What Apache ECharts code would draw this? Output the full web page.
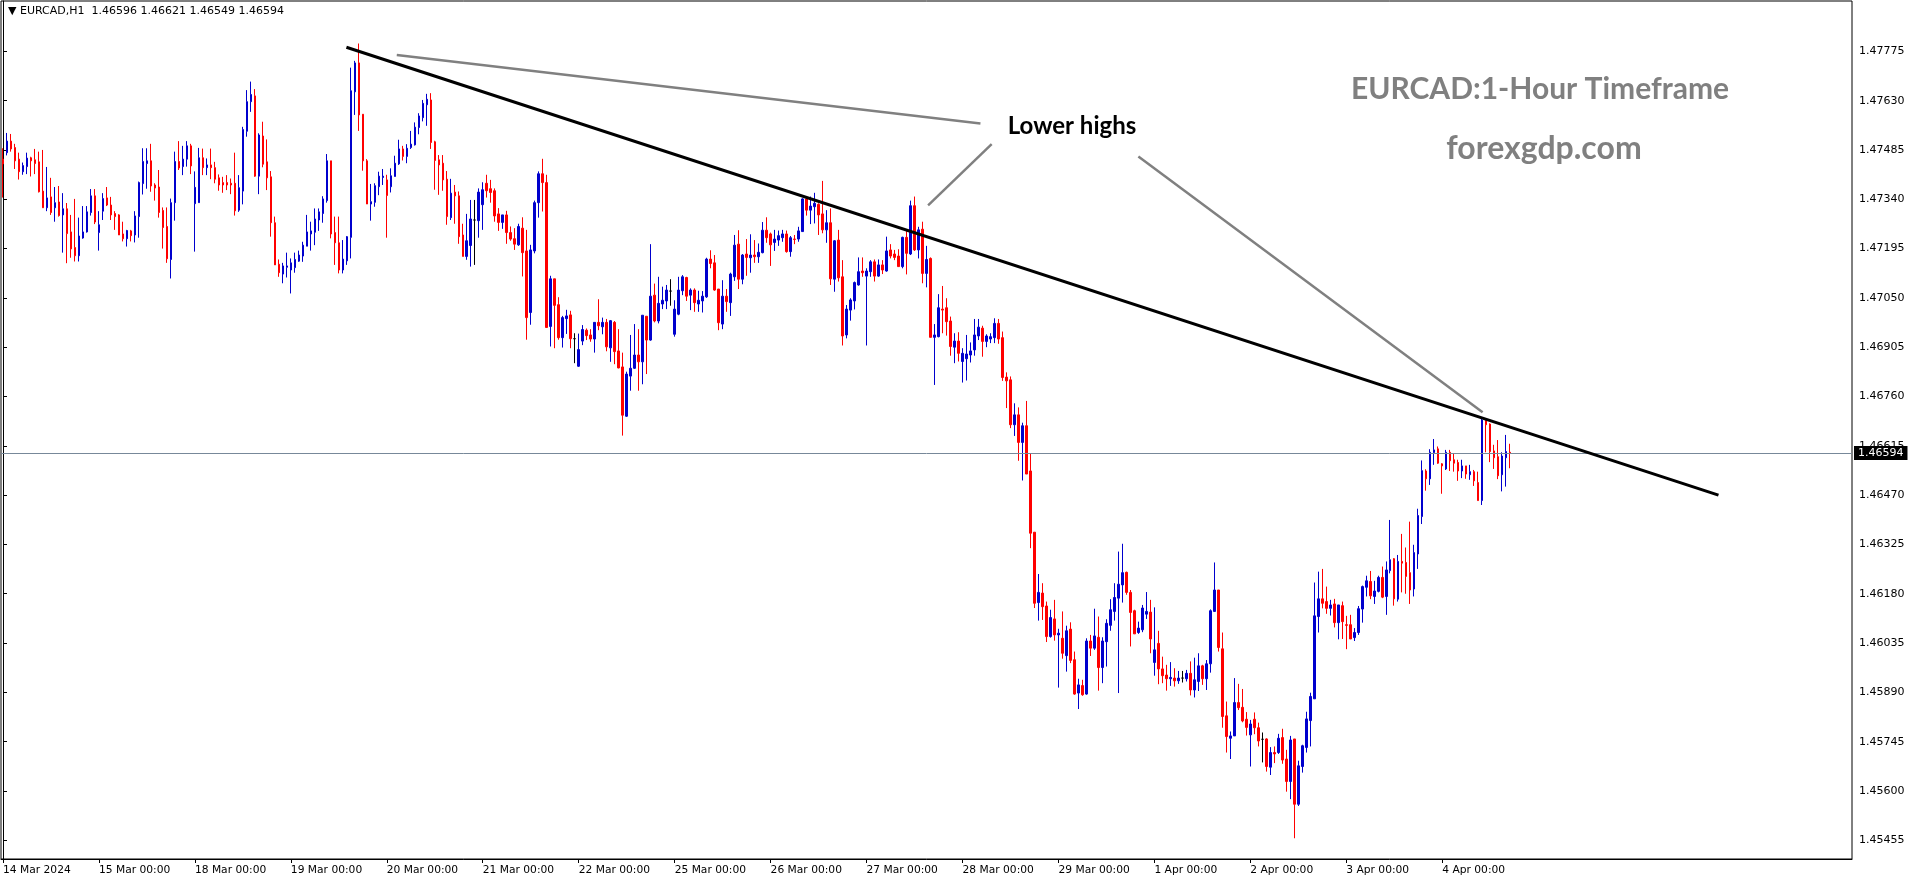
<!DOCTYPE html>
<html><head><meta charset="utf-8">
<script src="https://cdn.jsdelivr.net/npm/echarts@6/dist/echarts.min.js"></script>
<style>html,body{margin:0;padding:0;background:#fff}#chart{width:1916px;height:884px}</style>
</head><body><div id="chart"></div>
<script>
const symbolName = 'EURCAD,H1';
const tradingDays = ['14 Mar','15 Mar','18 Mar','19 Mar','20 Mar','21 Mar','22 Mar','25 Mar','26 Mar','27 Mar','28 Mar','29 Mar','1 Apr','2 Apr','3 Apr','4 Apr','5 Apr','8 Apr','9 Apr','10 Apr'];
const xTickLabels = ['14 Mar 2024','15 Mar 00:00','18 Mar 00:00','19 Mar 00:00','20 Mar 00:00','21 Mar 00:00','22 Mar 00:00','25 Mar 00:00','26 Mar 00:00','27 Mar 00:00','28 Mar 00:00','29 Mar 00:00','1 Apr 00:00','2 Apr 00:00','3 Apr 00:00','4 Apr 00:00'];
const yTickLabels = ['1.45455','1.45600','1.45745','1.45890','1.46035','1.46180','1.46325','1.46470','1.46615','1.46760','1.46905','1.47050','1.47195','1.47340','1.47485','1.47630','1.47775'];

// hourly candles [open, high, low, close]
const d14Mar = [[1.47458,1.47490,1.47345,1.47444],[1.47477,1.47535,1.47469,1.47511],[1.47511,1.47532,1.47480,1.47488],[1.47492,1.47503,1.47429,1.47453],[1.47458,1.47477,1.47398,1.47421],[1.47421,1.47448,1.47412,1.47439],[1.47436,1.47477,1.47414,1.47461],[1.47462,1.47465,1.47407,1.47453],[1.47456,1.47488,1.47414,1.47445],[1.47450,1.47480,1.47360,1.47362],[1.47364,1.47485,1.47315,1.47315],[1.47315,1.47435,1.47305,1.47344],[1.47347,1.47403,1.47294,1.47301],[1.47315,1.47376,1.47274,1.47330],[1.47332,1.47379,1.47289,1.47292],[1.47294,1.47358,1.47183,1.47312],[1.47312,1.47329,1.47152,1.47239],[1.47244,1.47294,1.47168,1.47194],[1.47198,1.47341,1.47157,1.47174],[1.47174,1.47286,1.47157,1.47232],[1.47226,1.47320,1.47224,1.47244],[1.47244,1.47320,1.47242,1.47303],[1.47301,1.47370,1.47292,1.47350],[1.47350,1.47370,1.47267,1.47273]];
const d15Mar = [[1.47242,1.47305,1.47189,1.47265],[1.47305,1.47358,1.47279,1.47342],[1.47344,1.47376,1.47320,1.47323],[1.47323,1.47347,1.47279,1.47294],[1.47298,1.47305,1.47250,1.47289],[1.47294,1.47296,1.47235,1.47235],[1.47238,1.47274,1.47216,1.47224],[1.47224,1.47250,1.47201,1.47248],[1.47247,1.47250,1.47216,1.47233],[1.47235,1.47305,1.47213,1.47291],[1.47289,1.47392,1.47227,1.47389],[1.47386,1.47490,1.47354,1.47451],[1.47445,1.47490,1.47371,1.47453],[1.47453,1.47503,1.47362,1.47379],[1.47382,1.47387,1.47336,1.47373],[1.47376,1.47426,1.47286,1.47301],[1.47307,1.47316,1.47195,1.47257],[1.47260,1.47316,1.47153,1.47165],[1.47163,1.47342,1.47107,1.47330],[1.47330,1.47480,1.47277,1.47451],[1.47451,1.47511,1.47426,1.47432],[1.47436,1.47497,1.47411,1.47458],[1.47458,1.47511,1.47436,1.47497],[1.47497,1.47503,1.47414,1.47438]];
const d18Mar = [[1.47327,1.47422,1.47186,1.47375],[1.47330,1.47491,1.47330,1.47462],[1.47462,1.47489,1.47411,1.47433],[1.47433,1.47460,1.47411,1.47441],[1.47441,1.47489,1.47399,1.47433],[1.47433,1.47450,1.47387,1.47399],[1.47403,1.47413,1.47365,1.47382],[1.47389,1.47406,1.47359,1.47382],[1.47389,1.47411,1.47367,1.47382],[1.47387,1.47401,1.47355,1.47382],[1.47387,1.47477,1.47292,1.47306],[1.47308,1.47411,1.47303,1.47374],[1.47364,1.47553,1.47325,1.47545],[1.47540,1.47661,1.47524,1.47627],[1.47627,1.47686,1.47597,1.47648],[1.47644,1.47664,1.47406,1.47408],[1.47408,1.47534,1.47355,1.47529],[1.47526,1.47568,1.47434,1.47443],[1.47450,1.47516,1.47367,1.47403],[1.47406,1.47423,1.47230,1.47271],[1.47271,1.47289,1.47147,1.47147],[1.47149,1.47163,1.47112,1.47124],[1.47120,1.47153,1.47093,1.47144],[1.47140,1.47183,1.47110,1.47144]];
const d19Mar = [[1.47132,1.47166,1.47063,1.47153],[1.47139,1.47183,1.47124,1.47163],[1.47158,1.47189,1.47156,1.47176],[1.47173,1.47215,1.47156,1.47205],[1.47202,1.47294,1.47202,1.47244],[1.47238,1.47274,1.47189,1.47247],[1.47243,1.47313,1.47205,1.47282],[1.47279,1.47313,1.47247,1.47303],[1.47298,1.47349,1.47271,1.47341],[1.47336,1.47473,1.47330,1.47453],[1.47453,1.47453,1.47225,1.47238],[1.47242,1.47289,1.47147,1.47212],[1.47212,1.47289,1.47122,1.47132],[1.47132,1.47220,1.47122,1.47164],[1.47159,1.47232,1.47147,1.47230],[1.47228,1.47727,1.47166,1.47659],[1.47656,1.47747,1.47588,1.47741],[1.47741,1.47798,1.47541,1.47588],[1.47590,1.47590,1.47424,1.47453],[1.47453,1.47458,1.47326,1.47326],[1.47326,1.47385,1.47277,1.47333],[1.47331,1.47387,1.47318,1.47380],[1.47377,1.47421,1.47352,1.47408],[1.47404,1.47429,1.47382,1.47408]];
const d20Mar = [[1.47397,1.47412,1.47227,1.47351],[1.47377,1.47431,1.47360,1.47409],[1.47407,1.47468,1.47407,1.47446],[1.47444,1.47515,1.47441,1.47488],[1.47488,1.47497,1.47454,1.47466],[1.47466,1.47502,1.47446,1.47490],[1.47492,1.47541,1.47488,1.47502],[1.47500,1.47566,1.47498,1.47552],[1.47551,1.47593,1.47531,1.47585],[1.47580,1.47632,1.47569,1.47622],[1.47618,1.47650,1.47556,1.47634],[1.47632,1.47652,1.47488,1.47507],[1.47509,1.47512,1.47368,1.47454],[1.47456,1.47470,1.47353,1.47441],[1.47446,1.47470,1.47365,1.47397],[1.47399,1.47423,1.47265,1.47289],[1.47286,1.47400,1.47279,1.47358],[1.47361,1.47382,1.47268,1.47350],[1.47350,1.47363,1.47209,1.47230],[1.47235,1.47268,1.47172,1.47172],[1.47172,1.47297,1.47162,1.47218],[1.47204,1.47338,1.47142,1.47282],[1.47279,1.47338,1.47147,1.47279],[1.47277,1.47372,1.47227,1.47361]];
const d21Mar = [[1.47324,1.47390,1.47250,1.47368],[1.47387,1.47412,1.47345,1.47365],[1.47371,1.47397,1.47330,1.47360],[1.47365,1.47372,1.47274,1.47291],[1.47297,1.47314,1.47247,1.47272],[1.47272,1.47294,1.47253,1.47294],[1.47294,1.47306,1.47209,1.47242],[1.47242,1.47260,1.47218,1.47223],[1.47224,1.47255,1.47191,1.47208],[1.47206,1.47268,1.47203,1.47260],[1.47255,1.47287,1.47113,1.47183],[1.47188,1.47250,1.46927,1.46992],[1.47007,1.47206,1.46971,1.47191],[1.47188,1.47336,1.47181,1.47330],[1.47330,1.47422,1.47286,1.47415],[1.47415,1.47459,1.47304,1.47389],[1.47389,1.47412,1.46963,1.46963],[1.46966,1.47115,1.46907,1.47106],[1.47106,1.47106,1.46902,1.47028],[1.47030,1.47052,1.46927,1.46933],[1.46933,1.46997,1.46904,1.46992],[1.46989,1.47015,1.46944,1.46997],[1.47000,1.47012,1.46902,1.46930],[1.46930,1.46946,1.46858,1.46930]];
const d22Mar = [[1.46849,1.46945,1.46847,1.46898],[1.46923,1.46970,1.46911,1.46957],[1.46955,1.46960,1.46926,1.46939],[1.46941,1.46958,1.46921,1.46929],[1.46929,1.46978,1.46889,1.46978],[1.46978,1.47046,1.46955,1.46968],[1.46965,1.46992,1.46943,1.46978],[1.46978,1.46988,1.46893,1.46906],[1.46903,1.46985,1.46862,1.46983],[1.46978,1.46982,1.46855,1.46892],[1.46894,1.46958,1.46843,1.46844],[1.46847,1.46889,1.46645,1.46705],[1.46702,1.46833,1.46700,1.46826],[1.46820,1.46941,1.46777,1.46843],[1.46843,1.46973,1.46841,1.46882],[1.46882,1.46958,1.46777,1.46862],[1.46862,1.46999,1.46796,1.46999],[1.46996,1.46996,1.46826,1.46926],[1.46926,1.47208,1.46924,1.47055],[1.47058,1.47092,1.46978,1.46982],[1.46982,1.47112,1.46975,1.47034],[1.47032,1.47083,1.47017,1.47043],[1.47041,1.47088,1.47017,1.47073],[1.47070,1.47105,1.47027,1.47070]];
const d25Mar = [[1.46943,1.47043,1.46936,1.47017],[1.47002,1.47112,1.46999,1.47073],[1.47071,1.47117,1.47058,1.47112],[1.47110,1.47112,1.47041,1.47055],[1.47058,1.47078,1.47014,1.47073],[1.47073,1.47078,1.47009,1.47036],[1.47032,1.47071,1.47009,1.47043],[1.47041,1.47070,1.47007,1.47055],[1.47053,1.47168,1.47050,1.47164],[1.47164,1.47190,1.47137,1.47151],[1.47153,1.47176,1.47071,1.47073],[1.47076,1.47076,1.46955,1.46977],[1.46973,1.47102,1.46958,1.47055],[1.47055,1.47076,1.47009,1.47039],[1.47036,1.47124,1.46997,1.47120],[1.47112,1.47235,1.47100,1.47205],[1.47208,1.47249,1.47076,1.47105],[1.47105,1.47179,1.47090,1.47176],[1.47179,1.47223,1.47115,1.47169],[1.47168,1.47237,1.47124,1.47176],[1.47176,1.47220,1.47153,1.47171],[1.47171,1.47210,1.47153,1.47184],[1.47183,1.47273,1.47181,1.47249],[1.47249,1.47287,1.47212,1.47227]];
const d26Mar = [[1.47238,1.47242,1.47144,1.47206],[1.47213,1.47250,1.47188,1.47223],[1.47220,1.47248,1.47203,1.47233],[1.47227,1.47250,1.47215,1.47238],[1.47238,1.47248,1.47183,1.47186],[1.47186,1.47232,1.47171,1.47227],[1.47223,1.47235,1.47208,1.47222],[1.47223,1.47259,1.47215,1.47247],[1.47245,1.47343,1.47245,1.47341],[1.47341,1.47343,1.47292,1.47308],[1.47308,1.47348,1.47267,1.47320],[1.47318,1.47359,1.47269,1.47328],[1.47325,1.47328,1.47235,1.47294],[1.47297,1.47394,1.47240,1.47250],[1.47250,1.47308,1.47212,1.47271],[1.47271,1.47313,1.47088,1.47106],[1.47105,1.47220,1.47068,1.47218],[1.47220,1.47250,1.47098,1.47109],[1.47112,1.47161,1.46910,1.46938],[1.46941,1.47029,1.46931,1.47017],[1.47014,1.47049,1.46983,1.47044],[1.47041,1.47098,1.47016,1.47095],[1.47088,1.47169,1.47086,1.47127],[1.47129,1.47169,1.47112,1.47124]];
const d27Mar = [[1.47114,1.47137,1.46910,1.47129],[1.47127,1.47161,1.47112,1.47156],[1.47156,1.47163,1.47098,1.47114],[1.47114,1.47163,1.47112,1.47147],[1.47147,1.47161,1.47120,1.47132],[1.47129,1.47230,1.47127,1.47188],[1.47191,1.47208,1.47166,1.47173],[1.47179,1.47191,1.47161,1.47169],[1.47173,1.47193,1.47142,1.47142],[1.47142,1.47230,1.47137,1.47228],[1.47228,1.47248,1.47119,1.47181],[1.47179,1.47336,1.47176,1.47321],[1.47321,1.47348,1.47188,1.47191],[1.47191,1.47259,1.47166,1.47250],[1.47252,1.47274,1.47093,1.47122],[1.47122,1.47203,1.47081,1.47163],[1.47166,1.47169,1.46934,1.46934],[1.46934,1.46973,1.46794,1.46941],[1.46936,1.47061,1.46934,1.47021],[1.47017,1.47085,1.46946,1.47014],[1.47021,1.47049,1.46939,1.46980],[1.46982,1.46995,1.46880,1.46907],[1.46905,1.46946,1.46858,1.46923],[1.46923,1.46949,1.46863,1.46887]];
const d28Mar = [[1.46863,1.46902,1.46801,1.46887],[1.46871,1.46941,1.46807,1.46885],[1.46882,1.46919,1.46860,1.46894],[1.46897,1.46988,1.46880,1.46941],[1.46938,1.46988,1.46926,1.46964],[1.46961,1.46968,1.46877,1.46922],[1.46922,1.46943,1.46905,1.46938],[1.46929,1.46946,1.46917,1.46936],[1.46933,1.46990,1.46917,1.46975],[1.46975,1.46988,1.46915,1.46929],[1.46933,1.46951,1.46806,1.46816],[1.46817,1.46831,1.46726,1.46806],[1.46809,1.46819,1.46667,1.46677],[1.46677,1.46740,1.46644,1.46706],[1.46706,1.46728,1.46571,1.46625],[1.46625,1.46683,1.46513,1.46674],[1.46674,1.46747,1.46532,1.46532],[1.46541,1.46593,1.46314,1.46358],[1.46361,1.46361,1.46138,1.46152],[1.46154,1.46238,1.46101,1.46184],[1.46182,1.46211,1.46103,1.46142],[1.46144,1.46157,1.46038,1.46054],[1.46054,1.46133,1.46051,1.46110],[1.46106,1.46162,1.46042,1.46059]];
const d29Mar = [[1.46059,1.46077,1.45904,1.46064],[1.46049,1.46128,1.45989,1.46005],[1.45998,1.46086,1.45951,1.46071],[1.46076,1.46096,1.45976,1.45984],[1.45986,1.46010,1.45883,1.45885],[1.45888,1.45930,1.45841,1.45912],[1.45910,1.45927,1.45880,1.45883],[1.45885,1.46049,1.45883,1.46041],[1.46041,1.46059,1.45997,1.46020],[1.46020,1.46136,1.46015,1.46056],[1.46052,1.46113,1.45895,1.45963],[1.45963,1.46052,1.45917,1.46041],[1.46039,1.46105,1.45966,1.46093],[1.46087,1.46164,1.46071,1.46133],[1.46128,1.46211,1.46101,1.46169],[1.46167,1.46304,1.45888,1.46208],[1.46206,1.46327,1.46154,1.46242],[1.46243,1.46245,1.46177,1.46184],[1.46184,1.46191,1.46025,1.46125],[1.46130,1.46133,1.46062,1.46062],[1.46066,1.46098,1.46062,1.46079],[1.46074,1.46147,1.46067,1.46138],[1.46120,1.46185,1.46106,1.46128],[1.46126,1.46162,1.46005,1.46047]];
const d01Apr = [[1.45978,1.46140,1.45939,1.46015],[1.46034,1.46071,1.45914,1.45959],[1.45959,1.45995,1.45917,1.45939],[1.45941,1.45971,1.45895,1.45930],[1.45930,1.45979,1.45909,1.45934],[1.45932,1.45961,1.45907,1.45924],[1.45924,1.45953,1.45915,1.45932],[1.45932,1.45953,1.45919,1.45932],[1.45930,1.45956,1.45922,1.45946],[1.45946,1.45981,1.45881,1.45897],[1.45897,1.45992,1.45875,1.45927],[1.45922,1.46005,1.45894,1.45968],[1.45968,1.45971,1.45912,1.45930],[1.45930,1.45985,1.45897,1.45974],[1.45974,1.46134,1.45948,1.46130],[1.46128,1.46272,1.46128,1.46191],[1.46191,1.46191,1.46010,1.46022],[1.46018,1.46066,1.45786,1.45819],[1.45821,1.45863,1.45713,1.45760],[1.45755,1.45775,1.45694,1.45762],[1.45762,1.45932,1.45762,1.45860],[1.45860,1.45915,1.45838,1.45845],[1.45846,1.45900,1.45802,1.45806],[1.45811,1.45832,1.45763,1.45787]];
const d02Apr = [[1.45765,1.45809,1.45672,1.45797],[1.45811,1.45831,1.45767,1.45786],[1.45786,1.45801,1.45731,1.45747],[1.45752,1.45772,1.45684,1.45752],[1.45753,1.45755,1.45657,1.45672],[1.45670,1.45729,1.45647,1.45713],[1.45713,1.45731,1.45682,1.45709],[1.45713,1.45768,1.45709,1.45755],[1.45757,1.45783,1.45680,1.45691],[1.45694,1.45721,1.45598,1.45628],[1.45628,1.45762,1.45576,1.45750],[1.45753,1.45753,1.45461,1.45561],[1.45561,1.45689,1.45556,1.45674],[1.45672,1.45736,1.45654,1.45733],[1.45728,1.45833,1.45713,1.45812],[1.45807,1.45889,1.45731,1.45878],[1.45871,1.46213,1.45871,1.46115],[1.46113,1.46245,1.46066,1.46165],[1.46165,1.46253,1.46137,1.46152],[1.46157,1.46201,1.46121,1.46137],[1.46137,1.46162,1.46116,1.46147],[1.46150,1.46165,1.46081,1.46095],[1.46095,1.46147,1.46046,1.46147],[1.46145,1.46157,1.46047,1.46098]];
const d03Apr = [[1.46089,1.46115,1.46017,1.46087],[1.46089,1.46118,1.46047,1.46047],[1.46051,1.46079,1.46041,1.46066],[1.46066,1.46144,1.46059,1.46136],[1.46135,1.46204,1.46095,1.46201],[1.46199,1.46233,1.46172,1.46218],[1.46216,1.46247,1.46164,1.46174],[1.46172,1.46218,1.46150,1.46188],[1.46187,1.46233,1.46184,1.46228],[1.46228,1.46260,1.46167,1.46170],[1.46172,1.46275,1.46118,1.46250],[1.46248,1.46397,1.46240,1.46280],[1.46283,1.46285,1.46145,1.46165],[1.46164,1.46294,1.46157,1.46275],[1.46275,1.46356,1.46184,1.46270],[1.46272,1.46316,1.46180,1.46231],[1.46242,1.46392,1.46150,1.46191],[1.46194,1.46324,1.46172,1.46301],[1.46297,1.46430,1.46253,1.46410],[1.46407,1.46572,1.46385,1.46542],[1.46541,1.46546,1.46483,1.46518],[1.46518,1.46605,1.46500,1.46596],[1.46595,1.46635,1.46559,1.46603],[1.46606,1.46613,1.46562,1.46564]];
const d04Apr = [[1.46562,1.46564,1.46474,1.46556],[1.46547,1.46603,1.46544,1.46596],[1.46596,1.46603,1.46541,1.46571],[1.46574,1.46591,1.46539,1.46564],[1.46566,1.46574,1.46512,1.46541],[1.46541,1.46574,1.46520,1.46556],[1.46556,1.46556,1.46518,1.46532],[1.46530,1.46559,1.46515,1.46539],[1.46539,1.46544,1.46497,1.46512],[1.46507,1.46539,1.46454,1.46454],[1.46454,1.46694,1.46441,1.46691],[1.46689,1.46694,1.46596,1.46677],[1.46679,1.46681,1.46567,1.46598],[1.46600,1.46618,1.46547,1.46580],[1.46583,1.46632,1.46517,1.46527],[1.46530,1.46596,1.46481,1.46585],[1.46580,1.46647,1.46495,1.46598],[1.46596,1.46621,1.46549,1.46594]];

const currentPrice = 1.46594;
// annotation lines: [barIndex, price]
const trendLine = [[85.9, 1.47787], [429.1, 1.46470]];
const pointerLine1 = [[98.5, 1.47764], [244.5, 1.47563]];
const pointerLine2 = [[231.4, 1.47322], [247.3, 1.47502]];
const pointerLine3 = [[284.0, 1.47466], [370.1, 1.46714]];
const annotationText = 'Lower highs';
const titleText = 'EURCAD:1-Hour Timeframe';
const siteText = 'forexgdp.com';

const SLOTS = 463;
const candles = [].concat(d14Mar, d15Mar, d18Mar, d19Mar, d20Mar, d21Mar, d22Mar, d25Mar, d26Mar, d27Mar, d28Mar, d29Mar, d01Apr, d02Apr, d03Apr, d04Apr);
const categories = [];
tradingDays.forEach(d => { for (let h = 0; h < 24; h++) categories.push(d + ' ' + String(h).padStart(2, '0') + ':00'); });
categories.length = SLOTS;

const candleData = candles.map(([o, h, l, c]) => {
  const item = { value: [o, c, l, h] };
  if (o === c) item.itemStyle = { color: '#000', color0: '#000', borderColor: '#000', borderColor0: '#000' };
  return item;
});
const last = candles[candles.length - 1];
const headerText = '\u25BC ' + symbolName + '  ' + last.map(v => v.toFixed(5)).join(' ');
const yTicks = yTickLabels.map(Number);
const showTick = (idx) => idx % 24 === 0 && idx / 24 < xTickLabels.length;

const lineSeries = (pts, color, width) => ({
  type: 'line', xAxisIndex: 1, yAxisIndex: 0, data: pts, symbol: 'none', silent: true,
  lineStyle: { color: color, width: width }, z: 5, animation: false
});

const chart = echarts.init(document.getElementById('chart'), null, { renderer: 'canvas' });
chart.setOption({
  animation: false,
  backgroundColor: '#fff',
  grid: { left: 1, right: 64, top: 1, bottom: 25, show: true, borderColor: '#000', borderWidth: 1, backgroundColor: '#fff' },
  xAxis: [{
    type: 'category', data: categories, boundaryGap: true,
    axisLine: { show: true, lineStyle: { color: '#000', width: 1 } },
    axisTick: { show: true, interval: showTick, alignWithLabel: true, length: 4, lineStyle: { color: '#000' } },
    axisLabel: {
      interval: showTick, align: 'left', margin: 6, color: '#000',
      fontFamily: 'DejaVu Sans', fontSize: 10.7,
      formatter: (v, idx) => xTickLabels[Math.round(idx / 24)] || ''
    },
    splitLine: { show: false }
  }, {
    type: 'value', min: -0.5, max: SLOTS - 0.5, show: false
  }],
  yAxis: [{
    type: 'value', position: 'right', min: 1.45400, max: 1.47923,
    axisLine: { show: true, lineStyle: { color: '#000', width: 1 } },
    axisTick: { show: true, length: 4, customValues: yTicks, lineStyle: { color: '#000' } },
    axisLabel: {
      customValues: yTicks, margin: 7, color: '#000',
      fontFamily: 'DejaVu Sans', fontSize: 11,
      formatter: v => v.toFixed(5)
    },
    splitLine: { show: false }
  }],
  series: [{
    type: 'candlestick', xAxisIndex: 0, yAxisIndex: 0, data: candleData,
    barWidth: 2,
    itemStyle: { color: '#0000CD', color0: '#FF0000', borderColor: '#0000CD', borderColor0: '#FF0000', borderWidth: 1 },
    markLine: {
      silent: true, symbol: ['none', 'none'], animation: false, precision: 5,
      lineStyle: { color: '#778899', width: 1, type: 'solid' },
      label: {
        show: true, position: 'end', distance: 2, formatter: () => currentPrice.toFixed(5),
        backgroundColor: '#000', color: '#fff', fontFamily: 'DejaVu Sans', fontSize: 11, padding: [2, 4, 1, 4]
      },
      data: [{ yAxis: currentPrice }]
    }
  },
    lineSeries(pointerLine1, '#808080', 2.5),
    lineSeries(pointerLine2, '#808080', 2.5),
    lineSeries(pointerLine3, '#808080', 2.5),
    lineSeries(trendLine, '#000', 3)
  ],
  graphic: [
    { type: 'text', left: 8, top: 6, z: 100, style: { text: headerText, font: '11px "DejaVu Sans"', fill: '#000' } },
    { type: 'text', x: 1540, y: 89, z: 100, style: { text: titleText, font: 'bold 30px Lato', fill: '#808080', align: 'center', verticalAlign: 'middle' } },
    { type: 'text', x: 1544, y: 149, z: 100, style: { text: siteText, font: 'bold 32px Lato', fill: '#808080', align: 'center', verticalAlign: 'middle' } },
    { type: 'text', x: 1072, y: 126, z: 100, style: { text: annotationText, font: 'bold 24px Lato', fill: '#000', align: 'center', verticalAlign: 'middle' } }
  ]
});
</script>
</body></html>
